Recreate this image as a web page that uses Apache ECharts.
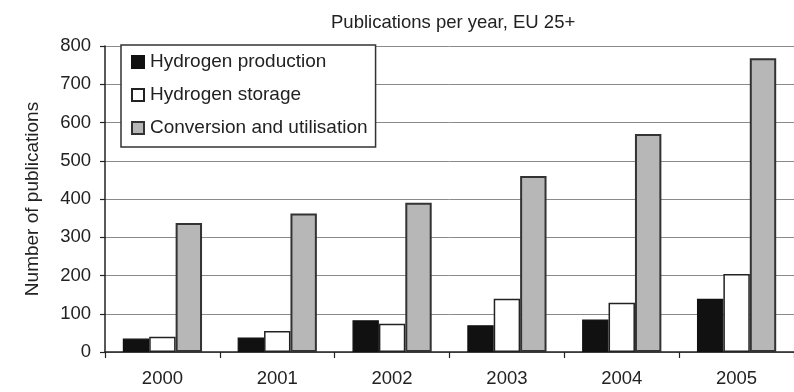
<!DOCTYPE html>
<html>
<head>
<meta charset="utf-8">
<script src="https://cdn.jsdelivr.net/npm/echarts@6/dist/echarts.min.js"></script>
<style>
html,body{margin:0;padding:0;background:#fff;}
#chart{width:794px;height:392px;}
</style>
</head>
<body>
<div id="chart"></div>
<script>
const categories = ['2000', '2001', '2002', '2003', '2004', '2005'];
const hydrogenProduction = [35, 38, 83, 70, 85, 139];
const hydrogenStorage = [40, 55, 74, 139, 129, 204];
const conversionUtilisation = [337, 362, 390, 460, 570, 768];
const yTicks = { min: 0, max: 800, interval: 100 };

const FONT = '"Liberation Sans", Arial, sans-serif';
const chart = echarts.init(document.getElementById('chart'), null, { renderer: 'canvas' });

chart.setOption({
  backgroundColor: '#ffffff',
  animation: false,
  title: {
    text: 'Publications per year, EU 25+',
    left: 326,
    top: 8,
    textStyle: { fontFamily: FONT, fontSize: 18.5, fontWeight: 'normal', color: '#222' }
  },
  legend: {
    orient: 'vertical',
    left: 121,
    top: 45,
    padding: [7, 8, 9, 10],
    itemGap: 13,
    itemWidth: 12,
    itemHeight: 12,
    icon: 'rect',
    backgroundColor: '#ffffff',
    borderColor: '#333',
    borderWidth: 1.5,
    borderRadius: 0,
    textStyle: { fontFamily: FONT, fontSize: 19, color: '#222', lineHeight: 20, padding: [0, 0, 0, 1] },
    data: ['Hydrogen production', 'Hydrogen storage', 'Conversion and utilisation']
  },
  grid: { left: 105, right: 0, top: 46, bottom: 40, containLabel: false },
  xAxis: {
    type: 'category',
    data: categories,
    boundaryGap: true,
    axisLine: { show: true, lineStyle: { color: '#222', width: 1.5 } },
    axisTick: { show: true, alignWithLabel: false, length: 6, lineStyle: { color: '#222', width: 1.2 } },
    axisLabel: { margin: 17, fontFamily: FONT, fontSize: 18.5, color: '#222' },
    splitLine: { show: false }
  },
  yAxis: {
    type: 'value',
    min: yTicks.min,
    max: yTicks.max,
    interval: yTicks.interval,
    name: 'Number of publications',
    nameLocation: 'middle',
    nameGap: 63,
    nameTextStyle: { fontFamily: FONT, fontSize: 19, color: '#222' },
    axisLine: { show: true, lineStyle: { color: '#222', width: 1.5 } },
    axisTick: { show: true, length: 5, lineStyle: { color: '#222', width: 1.2 } },
    axisLabel: { margin: 14, fontFamily: FONT, fontSize: 18.5, color: '#222' },
    splitLine: { show: true, lineStyle: { color: '#8a8a8a', width: 1 } }
  },
  series: [
    {
      name: 'Hydrogen production',
      type: 'bar',
      data: hydrogenProduction,
      barGap: '0%',
      barCategoryGap: '31%',
      itemStyle: { color: '#111111', borderColor: '#111', borderWidth: 1.2 }
    },
    {
      name: 'Hydrogen storage',
      type: 'bar',
      data: hydrogenStorage,
      barGap: '0%',
      barCategoryGap: '31%',
      itemStyle: { color: '#ffffff', borderColor: '#222', borderWidth: 1.5 }
    },
    {
      name: 'Conversion and utilisation',
      type: 'bar',
      data: conversionUtilisation,
      barGap: '0%',
      barCategoryGap: '31%',
      itemStyle: { color: '#b7b7b7', borderColor: '#333', borderWidth: 2 }
    }
  ]
});
</script>
</body>
</html>
